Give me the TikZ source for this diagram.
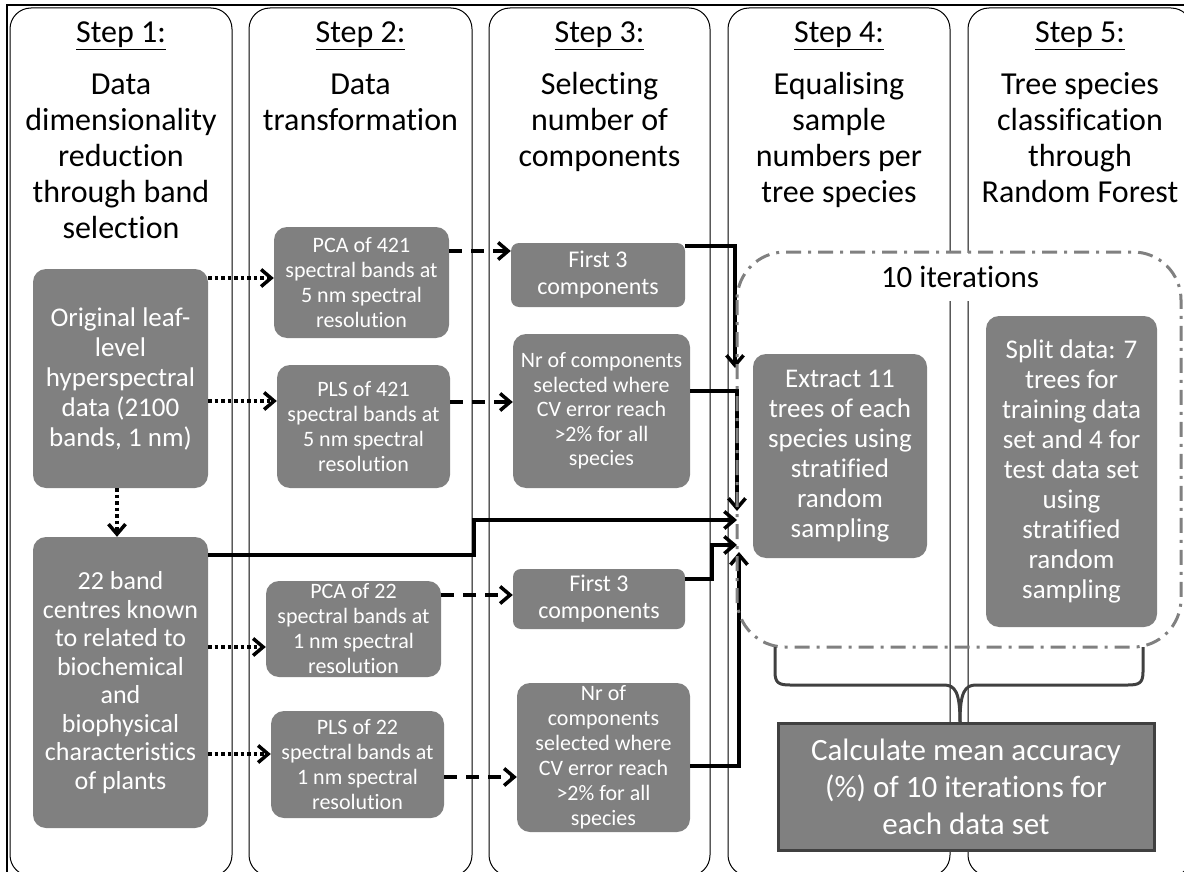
\documentclass[tikz,border=0pt]{standalone}
\usepackage{fontspec}
\setmainfont{Carlito}[Ligatures={NoCommon}]
\usetikzlibrary{arrows.meta}
\definecolor{boxgray}{HTML}{808080}
\definecolor{edgegray}{HTML}{404040}
\begin{document}
\begin{tikzpicture}[x=1pt,y=-1pt,
  col/.style={draw=black, line width=1pt, rounded corners=21pt},
  gbox/.style={fill=boxgray, text=white, rounded corners=13pt, align=center, inner sep=0pt},
  stephdr/.style={anchor=base, inner sep=0pt, font=\fontsize{32}{36}\selectfont},
  deschdr/.style={anchor=north, align=center, inner sep=0pt, font=\fontsize{32}{36}\selectfont},
  tipshape/.style={-{Straight Barb[length=10pt,width=17pt,line width=3.5pt]}},
  dotarrow/.style={tipshape, line width=3.5pt, dash pattern=on 3.5pt off 3pt},
  dasharrow/.style={tipshape, line width=3.5pt, dash pattern=on 13pt off 9pt},
  solidarrow/.style={tipshape, line width=3.2pt},
  fA/.style={font=\fontsize{22}{25}\selectfont},
  fB/.style={font=\fontsize{24}{27}\selectfont},
  fC/.style={font=\fontsize{27}{30}\selectfont}]
\useasboundingbox (0,0) rectangle (1184,872);
% outer frame (cut by the page edge)
\draw[line width=1.3pt] (7,5) rectangle (1210,890);
% columns
\draw[col] (10,8) rectangle (232,876);
\draw[col] (249,8) rectangle (472,876);
\draw[col] (489,8) rectangle (710,876);
\draw[col] (728,8) rectangle (950,876);
\draw[col] (968,8) rectangle (1192,876);
% headers
\node[stephdr] (s1) at (121,43) {\underline{Step 1:}};
\node[stephdr] (s2) at (360.5,43) {\underline{Step 2:}};
\node[stephdr] (s3) at (599.5,43) {\underline{Step 3:}};
\node[stephdr] (s4) at (839,43) {\underline{Step 4:}};
\node[stephdr] (s5) at (1080,43) {\underline{Step 5:}};
\node[deschdr] (d1) at (121,70) {\rule{0pt}{24pt}Data\\dimensionality\\reduction\\through band\\selection};
\node[deschdr] (d2) at (360.5,70) {\rule{0pt}{24pt}Data\\transformation};
\node[deschdr] (d3) at (599.5,70) {\rule{0pt}{24pt}Selecting\\number of\\components};
\node[deschdr] (d4) at (839,70) {\rule{0pt}{24pt}Equalising\\sample\\numbers per\\tree species};
\node[deschdr] (d5) at (1080,70) {\rule{0pt}{24pt}Tree species\\classification\\through\\Random Forest};
% boxes
\node[gbox, fC, minimum width=175pt, minimum height=219pt] (orig) at (120.5,378.5) {Original leaf-\\level\\hyperspectral\\data (2100\\bands, 1 nm)};
\node[gbox, font=\fontsize{26}{28.5}\selectfont, minimum width=175pt, minimum height=291pt] (band) at (120.5,682.5) {22 band\\centres known\\to related to\\biochemical\\and\\biophysical\\characteristics\\of plants};
\node[gbox, fA, minimum width=175pt, minimum height=111pt] (pcaA) at (361.5,282.5) {PCA of 421\\spectral bands at\\5 nm spectral\\resolution};
\node[gbox, fA, minimum width=173pt, minimum height=123pt] (plsA) at (363.5,426.5) {PLS of 421\\spectral bands at\\5 nm spectral\\resolution};
\node[gbox, fA, minimum width=175pt, minimum height=96pt] (pcaB) at (353.5,629) {PCA of 22\\spectral bands at\\1 nm spectral\\resolution};
\node[gbox, fA, minimum width=173pt, minimum height=107pt] (plsB) at (357.5,764.5) {PLS of 22\\spectral bands at\\1 nm spectral\\resolution};
\node[gbox, fB, rounded corners=8pt, minimum width=174pt, minimum height=64pt] (firstA) at (598,275) {First 3\\components};
\node[gbox, font=\fontsize{22}{24.5}\selectfont, minimum width=177pt, minimum height=154pt] (nrA) at (601.5,411) {Nr of components\\selected where\\CV error reach\\>2\% for all\\species};
\node[gbox, fB, rounded corners=8pt, minimum width=172pt, minimum height=60pt] (firstB) at (599,599) {First 3\\components};
\node[gbox, fA, minimum width=173pt, minimum height=149pt] (nrB) at (603.5,757.5) {Nr of\\components\\selected where\\CV error reach\\>2\% for all\\species};
\node[gbox, fC, minimum width=174pt, minimum height=204pt] (extract) at (840,456) {Extract 11\\trees of each\\species using\\stratified\\random\\sampling};
\node[gbox, fC, minimum width=171pt, minimum height=311pt] (split) at (1071.5,471.5) {Split data: 7\\trees for\\training data\\set and 4 for\\test data set\\using\\stratified\\random\\sampling};
% end points of the connectors in front of Step 4
\coordinate (e1) at (735,368);
\coordinate (e2) at (737,511);
\coordinate (e3) at (737,520);
\coordinate (e4) at (737,545);
\coordinate (e5) at (739,552);
% dotted arrows
\draw[dotarrow] (orig.east |- {(0,278)}) -- (pcaA.west |- {(0,278)});
\draw[dotarrow] (orig.east |- {(0,401)}) -- (plsA.west |- {(0,401)});
\draw[dotarrow] (orig.south -| {(117,0)}) -- (band.north -| {(117,0)});
\draw[dotarrow] (band.east |- {(0,647)}) -- (pcaB.west |- {(0,647)});
\draw[dotarrow] (band.east |- {(0,754)}) -- (plsB.west |- {(0,754)});
% dashed arrows
\draw[dasharrow] (pcaA.east |- {(0,251)}) -- (firstA.west |- {(0,251)});
\draw[dasharrow] (plsA.east |- {(0,402)}) -- (nrA.west |- {(0,402)});
\draw[dasharrow] (pcaB.east |- {(0,595)}) -- (firstB.west |- {(0,595)});
\draw[dasharrow] (plsB.east |- {(0,777)}) -- (nrB.west |- {(0,777)});
% solid arrows
\draw[solidarrow] (firstA.east |- {(0,246)}) -| (e1);
\draw[solidarrow] (nrA.east |- {(0,391)}) -| (e2);
\draw[solidarrow] (band.east |- {(0,555)}) -- (474,555) |- (e3);
\draw[solidarrow] (firstB.east |- {(0,579)}) -- (712,579) |- (e4);
\draw[solidarrow] (nrB.east |- {(0,766)}) -| (e5);
% iterations
\node[fill=white, inner xsep=4pt, minimum height=48pt, font=\fontsize{31}{36}\selectfont] (iter) at (960,277) {10 iterations};
\draw[boxgray, line width=3pt, dash pattern=on 15pt off 7pt on 3pt off 7pt, rounded corners=48pt] (737,252) rectangle (1181,647);
% brace
\coordinate (bl) at (775,647);
\coordinate (br) at (1143,647);
\coordinate (bt) at (960,722);
\draw[edgegray, line width=3pt] (bl) -- (775,672) .. controls (775,683) and (779,685) .. (790,685) -- (944,685) .. controls (955,685) and (960,692) .. (bt);
\draw[edgegray, line width=3pt] (br) -- (1143,672) .. controls (1143,683) and (1139,685) .. (1128,685) -- (976,685) .. controls (965,685) and (960,692) .. (bt);
% final box
\node[fill=boxgray, draw=edgegray, line width=3pt, text=white, align=center, inner sep=0pt, minimum width=376pt, minimum height=127pt, font=\fontsize{31}{37}\selectfont] (calc) at (966,786.5) {Calculate mean accuracy\\(\%) of 10 iterations for\\each data set};
\end{tikzpicture}
\end{document}
